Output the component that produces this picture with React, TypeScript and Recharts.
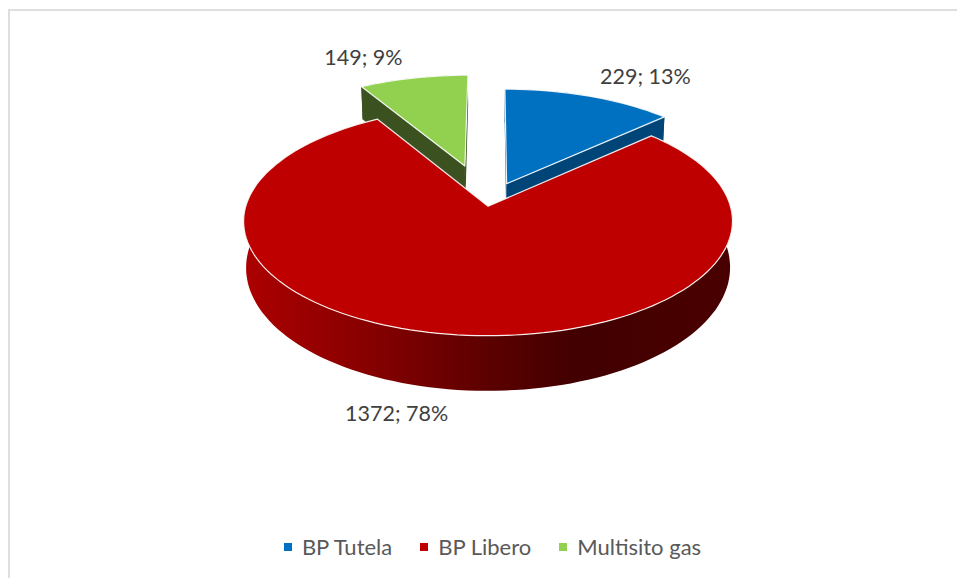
import { Legend, Pie, PieChart } from 'recharts';

const categories = ['BP Tutela', 'BP Libero', 'Multisito gas'];
const values = [229, 1372, 149];
const topColors = ['#0070C0', '#BE0000', '#92D050'];
const wallColors = ['#004577', 'url(#redWall)', '#3B5220'];
// how far each slice is pulled out of the pie, in pie radii [across, back]
const explode = [
  [0.064, 0.1],
  [-0.014, -0.105],
  [-0.115, 0.27],
];
const labelOffsets = [
  [56, -20.7],
  [-51, 78.7],
  [-50, -20.6],
];
// red has to be painted last, it covers the walls of the other two
const drawOrder = [2, 0, 1];

const total = values.reduce((a, b) => a + b, 0);
const tableData = drawOrder.map((i) => ({ name: categories[i], value: values[i], fill: topColors[i] }));
const startAngle = 90 + (360 * values[2]) / total;

const CX = 491.5;
const CY = 194.5;
const RADIUS = 239;
const FLATTEN = 0.458;
const PERSPECTIVE = 0.13;

const rad = (d: number) => (d * Math.PI) / 180;

function project(cx: number, cy: number, r: number, u: number, v: number) {
  const s = 1 + PERSPECTIVE * v;
  return [cx + (r * u) / s, cy - (r * FLATTEN * v) / s];
}

function dropped(cx: number, p: number[], v: number) {
  return [cx + (p[0] - cx) * 0.99, p[1] + 44 - 10 * v];
}

const toPath = (pts: number[][]) => 'M' + pts.map((p) => `${p[0].toFixed(1)},${p[1].toFixed(1)}`).join('L') + 'Z';

/** Flat Recharts sector re-projected as an exploded 3D slice. */
function Slice3D(props: any) {
  const { cx, cy, outerRadius, startAngle: a0, endAngle: a1, name, fill } = props;
  const i = categories.indexOf(name ?? props.payload?.name);
  const [ou, ov] = explode[i];
  const steps = Math.max(4, Math.ceil(Math.abs(a1 - a0) / 2));
  const rimUV: number[][] = [];
  for (let k = 0; k <= steps; k++) {
    const a = rad(a0 + ((a1 - a0) * k) / steps);
    rimUV.push([ou + Math.cos(a), ov + Math.sin(a)]);
  }
  const top = rimUV.map((p) => project(cx, cy, outerRadius, p[0], p[1]));
  const bottom = rimUV.map((p, k) => dropped(cx, top[k], p[1]));
  const apex = project(cx, cy, outerRadius, ou, ov);
  const apexLow = dropped(cx, apex, ov);
  const wall = wallColors[i];
  const cutColor = wall.startsWith('url') ? '#5a0000' : wall;
  const last = top.length - 1;
  return (
    <g>
      <path d={toPath([apex, top[0], bottom[0], apexLow])} fill={cutColor} />
      <path d={toPath([apex, top[last], bottom[last], apexLow])} fill={cutColor} />
      <path d={toPath([...top, ...[...bottom].reverse()])} fill={wall} />
      <path d={toPath([apex, ...top])} fill={fill} stroke="#ffffff" strokeOpacity={0.9} strokeWidth={1.2} strokeLinejoin="round" />
    </g>
  );
}

function SliceLabel(props: any) {
  const { cx, cy, outerRadius, midAngle, name, value, percent } = props;
  const i = categories.indexOf(name ?? props.payload?.name);
  const mid = rad(midAngle);
  const p = project(cx, cy, outerRadius, explode[i][0] + Math.cos(mid), explode[i][1] + Math.sin(mid));
  return (
    <text
      x={p[0] + labelOffsets[i][0]}
      y={p[1] + labelOffsets[i][1]}
      textAnchor="middle"
      dominantBaseline="central"
      fontFamily="Lato"
      fontSize={21.5}
      fill="#404040"
    >
      {`${value}; ${Math.round(percent * 100)}%`}
    </text>
  );
}

function LegendRow({ payload }: any) {
  const items = [...(payload ?? [])].sort((a, b) => categories.indexOf(a.value) - categories.indexOf(b.value));
  return (
    <div style={{ display: 'flex', justifyContent: 'center', gap: 28, fontFamily: 'Lato', fontSize: 22, color: '#595959' }}>
      {items.map((it: any) => (
        <span key={it.value} style={{ display: 'flex', alignItems: 'center', gap: 10 }}>
          <span style={{ width: 8, height: 8, background: topColors[categories.indexOf(it.value)] }} />
          {it.value}
        </span>
      ))}
    </div>
  );
}

export default function App() {
  return (
    <div style={{ position: 'absolute', left: 0, top: 0, width: 957, height: 578, overflow: 'hidden', background: '#fff' }}>
      <div style={{ position: 'absolute', left: 8, top: 9, width: 949, height: 569, borderLeft: '2px solid #dedede', borderTop: '2px solid #dedede' }} />
      <PieChart width={957} height={578} margin={{ top: 0, right: 0, bottom: 0, left: 0 }}>
        <defs>
          <linearGradient id="redWall" x1="0" y1="0" x2="1" y2="0">
            <stop offset="0" stopColor="#AC0000" />
            <stop offset="0.25" stopColor="#880000" />
            <stop offset="0.5" stopColor="#5C0000" />
            <stop offset="0.68" stopColor="#420000" />
            <stop offset="1" stopColor="#4A0000" />
          </linearGradient>
        </defs>
        <Pie
          data={tableData}
          dataKey="value"
          nameKey="name"
          cx={CX}
          cy={CY}
          outerRadius={RADIUS}
          startAngle={startAngle}
          endAngle={startAngle - 360}
          shape={Slice3D}
          label={SliceLabel}
          labelLine={false}
          stroke="none"
          isAnimationActive={false}
        />
        <Legend content={LegendRow} wrapperStyle={{ left: 0, top: 533, width: 985 }} />
      </PieChart>
    </div>
  );
}
